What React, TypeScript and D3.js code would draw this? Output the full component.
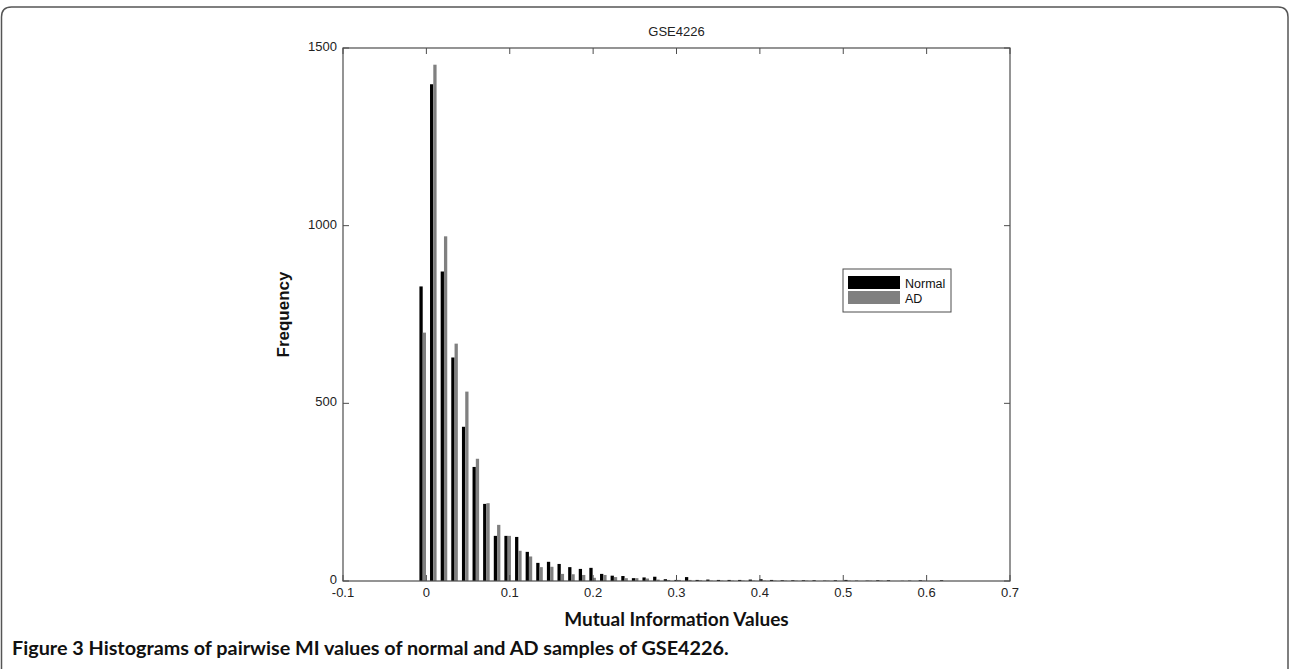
import React, { useEffect, useRef } from "react";
import * as d3 from "d3";

// histogram bin centres (50 bins, MI value)
const binCenters = [
  -0.0044, 0.0083, 0.0211, 0.0338, 0.0466, 0.0593, 0.072, 0.0848, 0.0975, 0.1103,
  0.123, 0.1357, 0.1485, 0.1612, 0.174, 0.1867, 0.1994, 0.2122, 0.2249, 0.2377,
  0.2504, 0.2631, 0.2759, 0.2886, 0.3014, 0.3141, 0.3268, 0.3396, 0.3523, 0.3651,
  0.3778, 0.3905, 0.4033, 0.416, 0.4288, 0.4415, 0.4542, 0.467, 0.4797, 0.4925,
  0.5052, 0.5179, 0.5307, 0.5434, 0.5562, 0.5689, 0.5816, 0.5944, 0.6071, 0.6199,
];

const normalCounts = [
  829, 1398, 871, 629, 434, 321, 217, 127, 127, 124,
  82, 51, 54, 48, 39, 34, 37, 20, 15, 14,
  8, 10, 12, 5, 3, 11, 3, 4, 3, 3,
  3, 4, 5, 3, 2, 2, 2, 2, 1, 2,
  3, 1, 1, 2, 2, 0, 1, 2, 0, 2,
];

const adCounts = [
  699, 1453, 970, 668, 533, 344, 219, 158, 127, 85,
  69, 39, 40, 20, 19, 17, 9, 17, 11, 8,
  8, 7, 4, 3, 3, 3, 2, 1, 1, 1,
  1, 1, 1, 1, 1, 1, 1, 0, 1, 0,
  1, 0, 1, 1, 0, 1, 0, 1, 0, 0,
];

const xTicks = [-0.1, 0, 0.1, 0.2, 0.3, 0.4, 0.5, 0.6, 0.7];
const xTickLabels = ["-0.1", "0", "0.1", "0.2", "0.3", "0.4", "0.5", "0.6", "0.7"];
const yTicks = [0, 500, 1000, 1500];
const seriesNames = ["Normal", "AD"];
const seriesColors = ["#000000", "#808080"];

const W = 1290;
const H = 669;

function App() {
  const ref = useRef<SVGSVGElement>(null);

  useEffect(() => {
    const svg = d3.select(ref.current);
    svg.selectAll("*").remove();

    const left = 343;
    const right = 1010;
    const top = 48;
    const bottom = 581;

    const x = d3.scaleLinear().domain([-0.1, 0.7]).range([left, right]);
    const y = d3.scaleLinear().domain([0, 1500]).range([bottom, top]);

    const axisColor = "#4d4d4d";
    const font = "'Liberation Sans', Arial, sans-serif";

    // outer figure frame (rounded top corners)
    svg
      .append("path")
      .attr("d", `M1.5,${H + 10} L1.5,17 Q1.5,7 11.5,7 L${W - 12},7 Q${W - 2},7 ${W - 2},17 L${W - 2},${H + 10}`)
      .attr("fill", "none")
      .attr("stroke", "#555")
      .attr("stroke-width", 1.5);

    // bars, black = normal on the left, grey = AD on the right of each bin
    const step = x(binCenters[1]) - x(binCenters[0]);
    const barW = step * 0.31;
    const series = [normalCounts, adCounts];
    series.forEach((values, si) => {
      svg
        .append("g")
        .attr("fill", seriesColors[si])
        .selectAll("rect")
        .data(values)
        .join("rect")
        .attr("x", (_, i) => x(binCenters[i]) - barW + si * barW)
        .attr("y", (d) => y(d))
        .attr("width", barW)
        .attr("height", (d) => y(0) - y(d));
    });

    // plot box
    svg
      .append("rect")
      .attr("x", left)
      .attr("y", top)
      .attr("width", right - left)
      .attr("height", bottom - top)
      .attr("fill", "none")
      .attr("stroke", axisColor)
      .attr("stroke-width", 1.2);

    const tickLen = 6;
    const ticks = svg.append("g").attr("stroke", axisColor).attr("stroke-width", 1);
    // x ticks, inward on bottom and top
    ticks
      .selectAll("line.xb")
      .data(xTicks)
      .join("line")
      .attr("class", "xb")
      .attr("x1", (d) => x(d))
      .attr("x2", (d) => x(d))
      .attr("y1", bottom)
      .attr("y2", bottom - tickLen);
    ticks
      .selectAll("line.xt")
      .data(xTicks)
      .join("line")
      .attr("class", "xt")
      .attr("x1", (d) => x(d))
      .attr("x2", (d) => x(d))
      .attr("y1", top)
      .attr("y2", top + tickLen);
    // y ticks, inward on left and right
    ticks
      .selectAll("line.yl")
      .data(yTicks)
      .join("line")
      .attr("class", "yl")
      .attr("x1", left)
      .attr("x2", left + tickLen)
      .attr("y1", (d) => y(d))
      .attr("y2", (d) => y(d));
    ticks
      .selectAll("line.yr")
      .data(yTicks)
      .join("line")
      .attr("class", "yr")
      .attr("x1", right)
      .attr("x2", right - tickLen)
      .attr("y1", (d) => y(d))
      .attr("y2", (d) => y(d));

    // tick labels
    svg
      .append("g")
      .attr("font-family", font)
      .attr("font-size", 13)
      .attr("fill", "#222")
      .attr("text-anchor", "middle")
      .selectAll("text")
      .data(xTicks)
      .join("text")
      .attr("x", (d) => x(d))
      .attr("y", bottom + 16)
      .text((_, i) => xTickLabels[i]);

    svg
      .append("g")
      .attr("font-family", font)
      .attr("font-size", 13)
      .attr("fill", "#222")
      .attr("text-anchor", "end")
      .selectAll("text")
      .data(yTicks)
      .join("text")
      .attr("x", left - 6)
      .attr("y", (d) => y(d) + 3)
      .text((d) => String(d));

    // title
    svg
      .append("text")
      .attr("x", (left + right) / 2)
      .attr("y", top - 12)
      .attr("text-anchor", "middle")
      .attr("font-family", font)
      .attr("font-size", 13)
      .attr("fill", "#222")
      .text("GSE4226");

    // axis labels
    svg
      .append("text")
      .attr("transform", `translate(289, ${(top + bottom) / 2}) rotate(-90)`)
      .attr("text-anchor", "middle")
      .attr("font-family", font)
      .attr("font-weight", "bold")
      .attr("font-size", 17)
      .attr("fill", "#111")
      .text("Frequency");

    svg
      .append("text")
      .attr("x", (left + right) / 2)
      .attr("y", bottom + 45)
      .attr("text-anchor", "middle")
      .attr("font-family", "Lato, 'Open Sans', sans-serif")
      .attr("font-weight", "bold")
      .attr("font-size", 19)
      .attr("fill", "#111")
      .text("Mutual Information Values");

    // legend
    const lg = svg.append("g").attr("transform", "translate(843, 269)");
    lg.append("rect")
      .attr("width", 108)
      .attr("height", 43)
      .attr("fill", "#fff")
      .attr("stroke", axisColor)
      .attr("stroke-width", 1);
    seriesNames.forEach((name, i) => {
      lg.append("rect")
        .attr("x", 5)
        .attr("y", 7 + i * 15)
        .attr("width", 52)
        .attr("height", 13)
        .attr("fill", seriesColors[i]);
      lg.append("text")
        .attr("x", 62)
        .attr("y", 18.5 + i * 15)
        .attr("font-family", font)
        .attr("font-size", 12.5)
        .attr("fill", "#111")
        .text(name);
    });

    // caption
    const cap = svg
      .append("text")
      .attr("x", 12)
      .attr("y", 655)
      .attr("font-family", "Lato, 'Open Sans', sans-serif")
      .attr("font-size", 19.8)
      .attr("fill", "#111");
    cap.append("tspan").attr("font-weight", "bold").text("Figure 3 ");
    cap
      .append("tspan")
      .attr("font-weight", "bold")
      .text("Histograms of pairwise MI values of normal and AD samples of GSE4226.");
  }, []);

  return (
    <div style={{ position: "absolute", left: 0, top: 0 }}>
      <svg ref={ref} width={W} height={H} style={{ display: "block" }} />
    </div>
  );
}

export default App;
